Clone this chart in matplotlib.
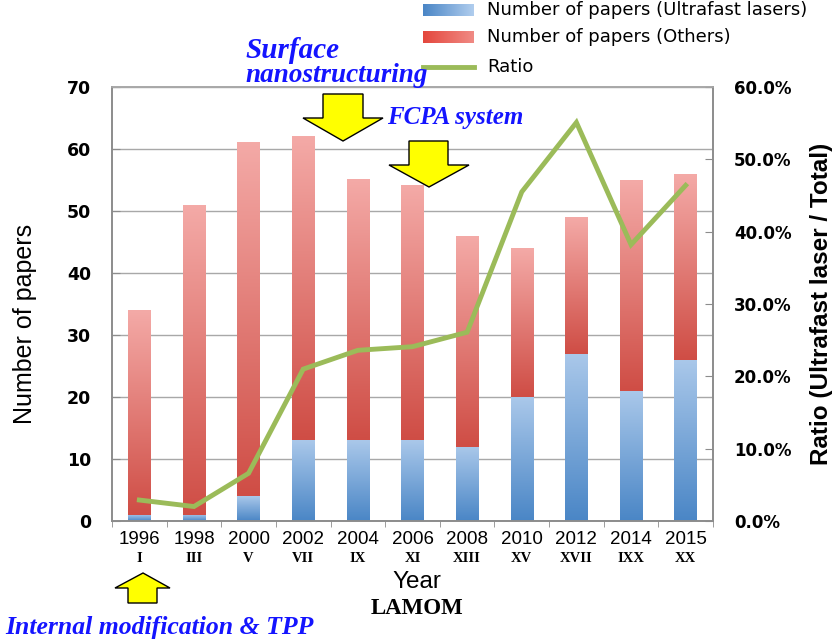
import numpy as np
import matplotlib
matplotlib.use('Agg')
import matplotlib.pyplot as plt
from matplotlib.colors import LinearSegmentedColormap
from matplotlib.patches import Polygon
from matplotlib.lines import Line2D
import matplotlib.transforms as mtransforms

# ---- data ----
years = ['1996', '1998', '2000', '2002', '2004', '2006', '2008', '2010', '2012', '2014', '2015']
roman = ['I', 'III', 'V', 'VII', 'IX', 'XI', 'XIII', 'XV', 'XVII', 'IXX', 'XX']
ultrafast = [1, 1, 4, 13, 13, 13, 12, 20, 27, 21, 26]
others = [33, 50, 57, 49, 42, 41, 34, 24, 22, 34, 30]
ratio_pct = [2.9, 2.0, 6.6, 21.0, 23.6, 24.1, 26.1, 45.5, 55.1, 38.2, 46.4]
left_ticks = [0, 10, 20, 30, 40, 50, 60, 70]
right_ticks = [0, 10, 20, 30, 40, 50, 60]

W, H = 838, 642
def fx(x):
    return x / W
def fy(y):
    return 1 - y / H

SERIF = ['Liberation Serif', 'DejaVu Serif']
SANS = ['DejaVu Sans']
HELV = ['Liberation Sans', 'DejaVu Sans']
BLUE_TXT = '#1414ff'
GRID = '#a8a8a8'
SPINE = '#8c8c8c'
GREEN = '#9bbb59'

cmap_blue = LinearSegmentedColormap.from_list('b', ['#4a86c6', '#aac8ea'])
cmap_red = LinearSegmentedColormap.from_list('r', ['#cf4d45', '#f4aaa7'])

fig = plt.figure(figsize=(W / 100, H / 100), dpi=100)
ax = fig.add_axes([fx(112), fy(521), fx(713) - fx(112), fy(87) - fy(521)])

x = np.arange(len(years))
bw = 0.41
b1 = ax.bar(x, ultrafast, width=bw, color='none', edgecolor='none', zorder=2)
b2 = ax.bar(x, others, width=bw, bottom=ultrafast, color='none', edgecolor='none', zorder=2)

grad = np.linspace(0, 1, 256).reshape(-1, 1)
for bars, cm in ((b1, cmap_blue), (b2, cmap_red)):
    for b in bars:
        x0, y0 = b.get_x(), b.get_y()
        w, h = b.get_width(), b.get_height()
        ax.imshow(grad, extent=[x0, x0 + w, y0, y0 + h], origin='lower', cmap=cm,
                  aspect='auto', zorder=2, interpolation='bilinear')

ax.set_xlim(-0.5, len(years) - 0.5)
ax.set_ylim(0, 70)
ax.set_axisbelow(True)
ax.yaxis.grid(True, color=GRID, lw=1.0)
for s in ax.spines.values():
    s.set_color(SPINE)
    s.set_linewidth(1.2)
ax.spines['top'].set_color(GRID)

ax.set_yticks(left_ticks)
ax.set_yticklabels([str(v) for v in left_ticks], fontweight='bold', fontsize=12.5, family=SANS)
ax.tick_params(axis='y', direction='in', length=6, color=SPINE, pad=15)

ax.set_xticks(x)
ax.set_xticklabels(years, fontsize=13.5, family=HELV)
ax.tick_params(axis='x', which='major', length=0, pad=7)
ax.set_xticks(np.arange(-0.5, len(years), 1), minor=True)
ax.tick_params(axis='x', which='minor', direction='out', length=4, color=SPINE)

trans = mtransforms.blended_transform_factory(ax.transData, fig.transFigure)
for i, r in enumerate(roman):
    ax.text(i, fy(558), r, transform=trans, ha='center', va='center',
            family=SERIF, fontweight='bold', fontsize=10.5)

ax.set_ylabel('Number of papers', fontsize=18, family=HELV)
ax.yaxis.set_label_coords((37 - 112) / 601, (521 - 324) / 434)

ax2 = ax.twinx()
ax2.plot(x, ratio_pct, color=GREEN, lw=3.5, solid_joinstyle='miter', zorder=3)
ax2.set_ylim(0, 60)
ax2.set_yticks(right_ticks)
ax2.set_yticklabels([f'{v:.1f}%' for v in right_ticks], fontweight='bold', fontsize=12, family=SANS)
ax2.tick_params(axis='y', direction='in', length=6, color=SPINE, pad=15)
for s in ax2.spines.values():
    s.set_color(SPINE)
    s.set_linewidth(1.2)
ax2.spines['top'].set_color(GRID)
ax2.set_ylabel('Ratio (Ultrafast laser / Total)', fontsize=17.5, family=HELV, fontweight='bold')
ax2.yaxis.set_label_coords((810 - 112) / 601, (521 - 304) / 434)

# x-axis title and LAMOM
fig.text(fx(417), fy(582), 'Year', ha='center', va='center', fontsize=17.5, family=HELV)
fig.text(fx(417), fy(609), 'LAMOM', ha='center', va='center', fontsize=16.5,
         family=SERIF, fontweight='bold')

# annotations
fig.text(fx(245), fy(58), 'Surface', ha='left', va='baseline', fontsize=21, family=SERIF,
         fontweight='bold', fontstyle='italic', color=BLUE_TXT)
fig.text(fx(245), fy(82), 'nanostructuring', ha='left', va='baseline', fontsize=19.5, family=SERIF,
         fontweight='bold', fontstyle='italic', color=BLUE_TXT)
fig.text(fx(387), fy(124), 'FCPA system', ha='left', va='baseline', fontsize=18, family=SERIF,
         fontweight='bold', fontstyle='italic', color=BLUE_TXT)
fig.text(fx(5), fy(634), 'Internal modification & TPP', ha='left', va='baseline', fontsize=18.5,
         family=SERIF, fontweight='bold', fontstyle='italic', color=BLUE_TXT)

arrows = [
    [(323, 94), (363, 94), (363, 118), (383, 118), (343, 141), (303, 118), (323, 118)],
    [(409, 141), (448, 141), (448, 165), (469, 165), (429, 187), (389, 165), (409, 165)],
    [(143, 573), (170, 588), (157, 588), (157, 603), (128, 603), (128, 588), (115, 588)],
]
for pts in arrows:
    poly = Polygon([(fx(a), fy(b)) for a, b in pts], closed=True, facecolor='#ffff00',
                   edgecolor='black', lw=1.0, transform=fig.transFigure, zorder=5)
    fig.add_artist(poly)

# legend (manual)
hgrad = np.linspace(0, 1, 100).reshape(1, -1)
leg_items = [
    (10, 'Number of papers (Ultrafast lasers)', LinearSegmentedColormap.from_list('lb', ['#4a86c6', '#b0cdee'])),
    (37, 'Number of papers (Others)', LinearSegmentedColormap.from_list('lr', ['#e4473d', '#f08a84'])),
]
for yc, label, cm in leg_items:
    la = fig.add_axes([fx(423), fy(yc + 6), fx(474) - fx(423), 12 / H])
    la.imshow(hgrad, cmap=cm, aspect='auto', extent=[0, 1, 0, 1])
    la.axis('off')
    fig.text(fx(487), fy(yc), label, ha='left', va='center', fontsize=13, family=SANS)
fig.add_artist(Line2D([fx(423), fx(474)], [fy(67), fy(67)], color=GREEN, lw=3.5,
                      transform=fig.transFigure))
fig.text(fx(487), fy(67), 'Ratio', ha='left', va='center', fontsize=13, family=SANS)

fig.savefig('out.png', dpi=100)
